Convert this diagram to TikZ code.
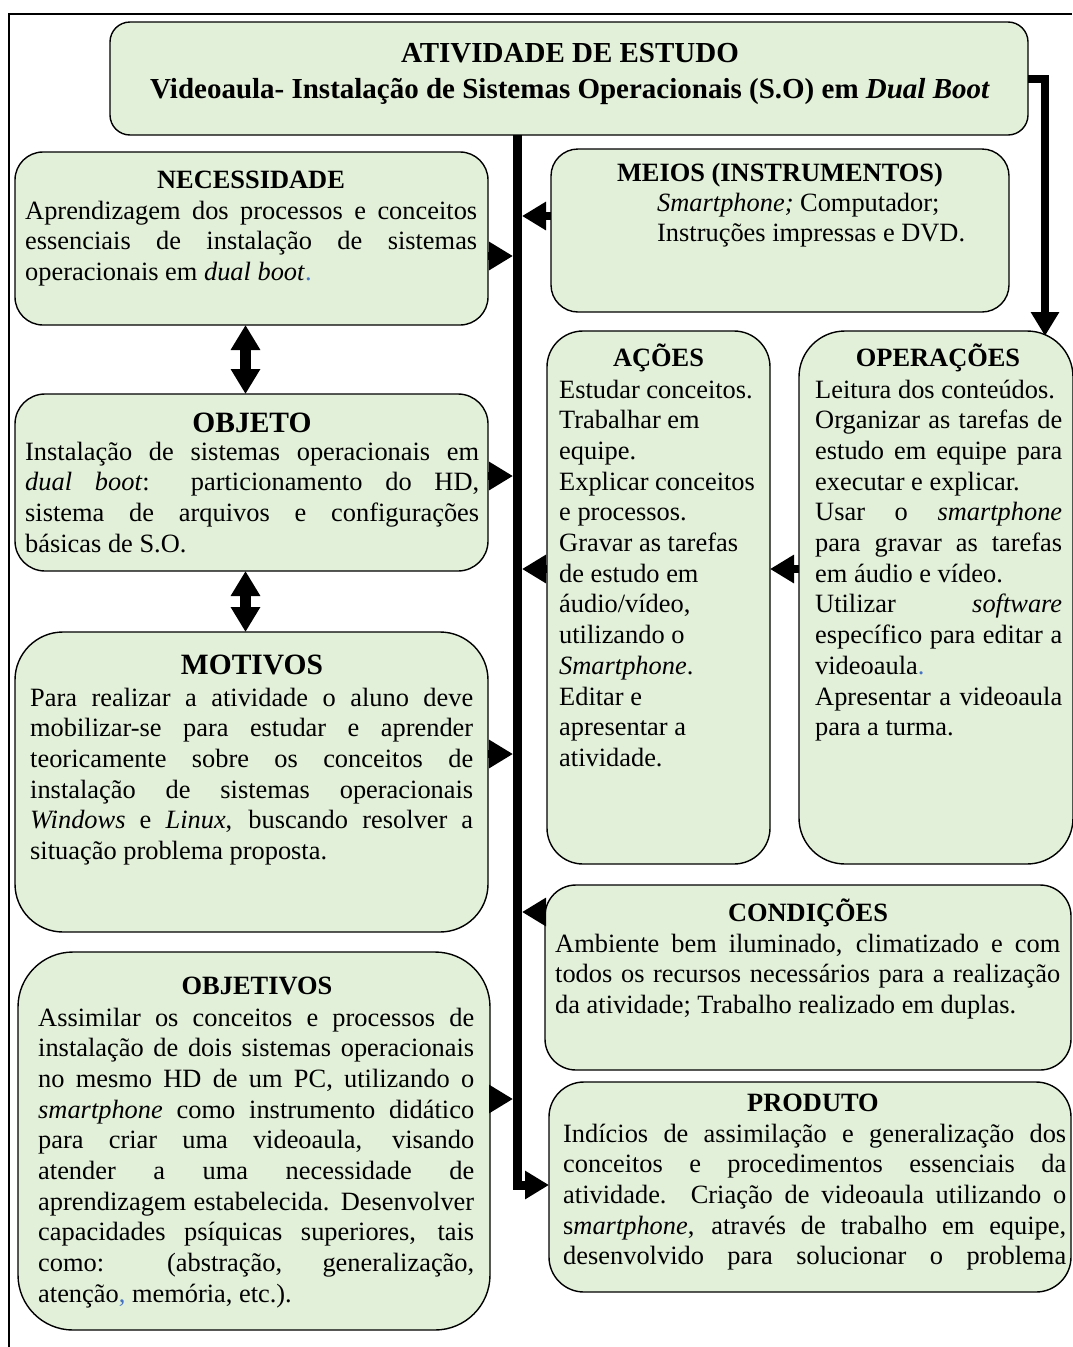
\documentclass[tikz,border=0pt]{standalone}
\usepackage{fontspec}
\setmainfont{Liberation Serif}
\usetikzlibrary{arrows.meta}
\definecolor{boxgreen}{RGB}{226,239,217}
\definecolor{wblue}{RGB}{68,114,196}
\setlength{\parindent}{0pt}
\setlength{\parskip}{0pt}
\newcommand\myJ[1]{\makebox[\linewidth][s]{#1}\par}
\newcommand\myL[1]{\makebox[\linewidth][l]{#1}\par}
\tikzset{
  box/.style={draw=black, line width=1.4pt, fill=boxgreen, inner sep=0pt, outer sep=0pt, rectangle},
  head/.style={font=\fontsize{26.4}{30.7}\selectfont\bfseries, anchor=base, inner sep=0pt},
  bighead/.style={font=\fontsize{29.5}{34}\selectfont\bfseries, anchor=base, inner sep=0pt},
  body/.style={font=\fontsize{26.4}{30.7}\selectfont, anchor=base west, inner sep=0pt},
  arr/.style={line width=8pt, -{Triangle[length=24pt,width=27pt]}},
  dbl/.style={line width=11pt, {Triangle[length=25pt,width=28pt]}-{Triangle[length=25pt,width=28pt]}},
  spine/.style={line width=9pt, line join=miter, -{Triangle[length=24pt,width=27pt]}}
}
\begin{document}
\begin{tikzpicture}[x=1pt,y=-1pt]
\useasboundingbox (0,0) rectangle (1072,1347);
% outer frame
\draw[line width=1.5pt] (9,1347) -- (9,14) -- (1072,14);

% boxes
\node[box, rounded corners=20pt, minimum width=918pt, minimum height=113pt] (title) at (569,78.5) {};
\node[box, rounded corners=28pt, minimum width=473pt, minimum height=173pt] (nec) at (251.5,238.5) {};
\node[box, rounded corners=27pt, minimum width=458pt, minimum height=163pt] (meios) at (780,230.5) {};
\node[box, rounded corners=30pt, minimum width=473pt, minimum height=177pt] (objeto) at (251.5,482.5) {};
\node[box, rounded corners=48pt, minimum width=473pt, minimum height=300pt] (motivos) at (251.5,782) {};
\node[box, rounded corners=55pt, minimum width=472pt, minimum height=378pt] (objetivos) at (254,1141) {};
\node[box, rounded corners=36pt, minimum width=223pt, minimum height=533pt] (acoes) at (658.5,597.5) {};
\node[box, rounded corners=46pt, minimum width=274pt, minimum height=533pt] (oper) at (936,597.5) {};
\node[box, rounded corners=31pt, minimum width=526pt, minimum height=185pt] (cond) at (808,977.5) {};
\node[box, rounded corners=35pt, minimum width=522pt, minimum height=210pt] (prod) at (810,1187) {};

% title texts
\node[head, font=\fontsize{29}{34}\selectfont\bfseries] (t1) at (570,62) {ATIVIDADE DE ESTUDO};
\node[head, font=\fontsize{29}{34}\selectfont\bfseries] (t2) at (570,98) {Videoaula- Instalação de Sistemas Operacionais (S.O) em \textit{Dual Boot}};

% NECESSIDADE
\node[head] (nech) at (251,188) {NECESSIDADE};
\node[body] (necb) at (25,219) {\parbox[t]{452pt}{%
\myJ{Aprendizagem dos processos e conceitos}
\myJ{essenciais de instalação de sistemas}
\myL{operacionais em \textit{dual boot}\textcolor{wblue}{.}}}};

% MEIOS
\node[head] (meiosh) at (780,181) {MEIOS (INSTRUMENTOS)};
\node[body] (meiosb) at (657,211) {\parbox[t]{340pt}{%
\myL{\textit{Smartphone;} Computador;}
\myL{Instruções impressas e DVD.}}};

% OBJETO
\node[bighead] (objh) at (252,432) {OBJETO};
\node[body] (objb) at (25,460) {\parbox[t]{454pt}{%
\myJ{Instalação de sistemas operacionais em}
\myJ{\textit{dual boot}: particionamento do HD,}
\myJ{sistema de arquivos e configurações}
\myL{básicas de S.O.}}};

% MOTIVOS
\node[bighead] (moth) at (252,674) {MOTIVOS};
\node[body] (motb) at (30,706) {\parbox[t]{443pt}{%
\myJ{Para realizar a atividade o aluno deve}
\myJ{mobilizar-se para estudar e aprender}
\myJ{teoricamente sobre os conceitos de}
\myJ{instalação de sistemas operacionais}
\myJ{\textit{Windows} e \textit{Linux}, buscando resolver a}
\myL{situação problema proposta.}}};

% OBJETIVOS
\node[head] (objvh) at (257,994) {OBJETIVOS};
\node[body] (objvb) at (38,1026) {\parbox[t]{436pt}{%
\myJ{Assimilar os conceitos e processos de}
\myJ{instalação de dois sistemas operacionais}
\myJ{no mesmo HD de um PC, utilizando o}
\myJ{\textit{smartphone} como instrumento didático}
\myJ{para criar uma videoaula, visando}
\myJ{atender a uma necessidade de}
\myJ{aprendizagem estabelecida. Desenvolver}
\myJ{capacidades psíquicas superiores, tais}
\myJ{como: (abstração, generalização,}
\myL{atenção\textcolor{wblue}{,} memória, etc.).}}};

% ACOES
\node[head] (acoesh) at (658.5,366) {AÇÕES};
\node[body] (acoesb) at (559,398) {\parbox[t]{205pt}{%
\myL{Estudar conceitos.}
\myL{Trabalhar em}
\myL{equipe.}
\myL{Explicar conceitos}
\myL{e processos.}
\myL{Gravar as tarefas}
\myL{de estudo em}
\myL{áudio/vídeo,}
\myL{utilizando o}
\myL{\textit{Smartphone}.}
\myL{Editar e}
\myL{apresentar a}
\myL{atividade.}}};

% OPERACOES
\node[head] (operh) at (938,366) {OPERAÇÕES};
\node[body] (operb) at (815,398) {\parbox[t]{247pt}{%
\myL{Leitura dos conteúdos.}
\myJ{Organizar as tarefas de}
\myJ{estudo em equipe para}
\myL{executar e explicar.}
\myJ{Usar o \textit{smartphone}}
\myJ{para gravar as tarefas}
\myL{em áudio e vídeo.}
\myJ{Utilizar \textit{software}}
\myJ{específico para editar a}
\myL{videoaula\textcolor{wblue}{.}}
\myJ{Apresentar a videoaula}
\myL{para a turma.}}};

% CONDICOES
\node[head] (condh) at (808,921) {CONDIÇÕES};
\node[body] (condb) at (555,952) {\parbox[t]{505pt}{%
\myJ{Ambiente bem iluminado, climatizado e com}
\myJ{todos os recursos necessários para a realização}
\myL{da atividade; Trabalho realizado em duplas.}}};

% PRODUTO
\node[head] (prodh) at (813,1111) {PRODUTO};
\node[body] (prodb) at (563,1142) {\parbox[t]{503pt}{%
\myJ{Indícios de assimilação e generalização dos}
\myJ{conceitos e procedimentos essenciais da}
\myJ{atividade. Criação de videoaula utilizando o}
\myJ{s\textit{martphone}, através de trabalho em equipe,}
\myJ{desenvolvido para solucionar o problema}}};

% coordinates
\coordinate (spx) at (517.5,0);
\coordinate (sL) at (513,0);
\coordinate (sR) at (522,0);
\coordinate (xD) at (245.5,0);
\coordinate (yMeios) at (0,216);
\coordinate (yNec) at (0,256);
\coordinate (yObj) at (0,476);
\coordinate (yAc) at (0,569);
\coordinate (yMot) at (0,754);
\coordinate (yCond) at (0,912);
\coordinate (yObjv) at (0,1099);
\coordinate (yProd) at (0,1185);
\coordinate (yT) at (0,79);
\coordinate (opTip) at (1045,336);

% spine
\draw[spine] (title.south -| spx) |- (prod.west |- yProd);
% arrows into spine
\draw[arr] (nec.east |- yNec) -- (sL |- yNec);
\draw[arr] (meios.west |- yMeios) -- (sR |- yMeios);
\draw[arr] (objeto.east |- yObj) -- (sL |- yObj);
\draw[arr] (acoes.west |- yAc) -- (sR |- yAc);
\draw[arr] (oper.west |- yAc) -- (acoes.east |- yAc);
\draw[arr] (motivos.east |- yMot) -- (sL |- yMot);
\draw[arr] (cond.west |- yCond) -- (sR |- yCond);
\draw[arr] (objetivos.east |- yObjv) -- (sL |- yObjv);
% title to operacoes
\draw[arr, line join=miter] (title.east |- yT) -| (opTip);
% double arrows
\draw[dbl] (nec.south -| xD) -- (objeto.north -| xD);
\draw[dbl] (objeto.south -| xD) -- (motivos.north -| xD);
\end{tikzpicture}
\end{document}
